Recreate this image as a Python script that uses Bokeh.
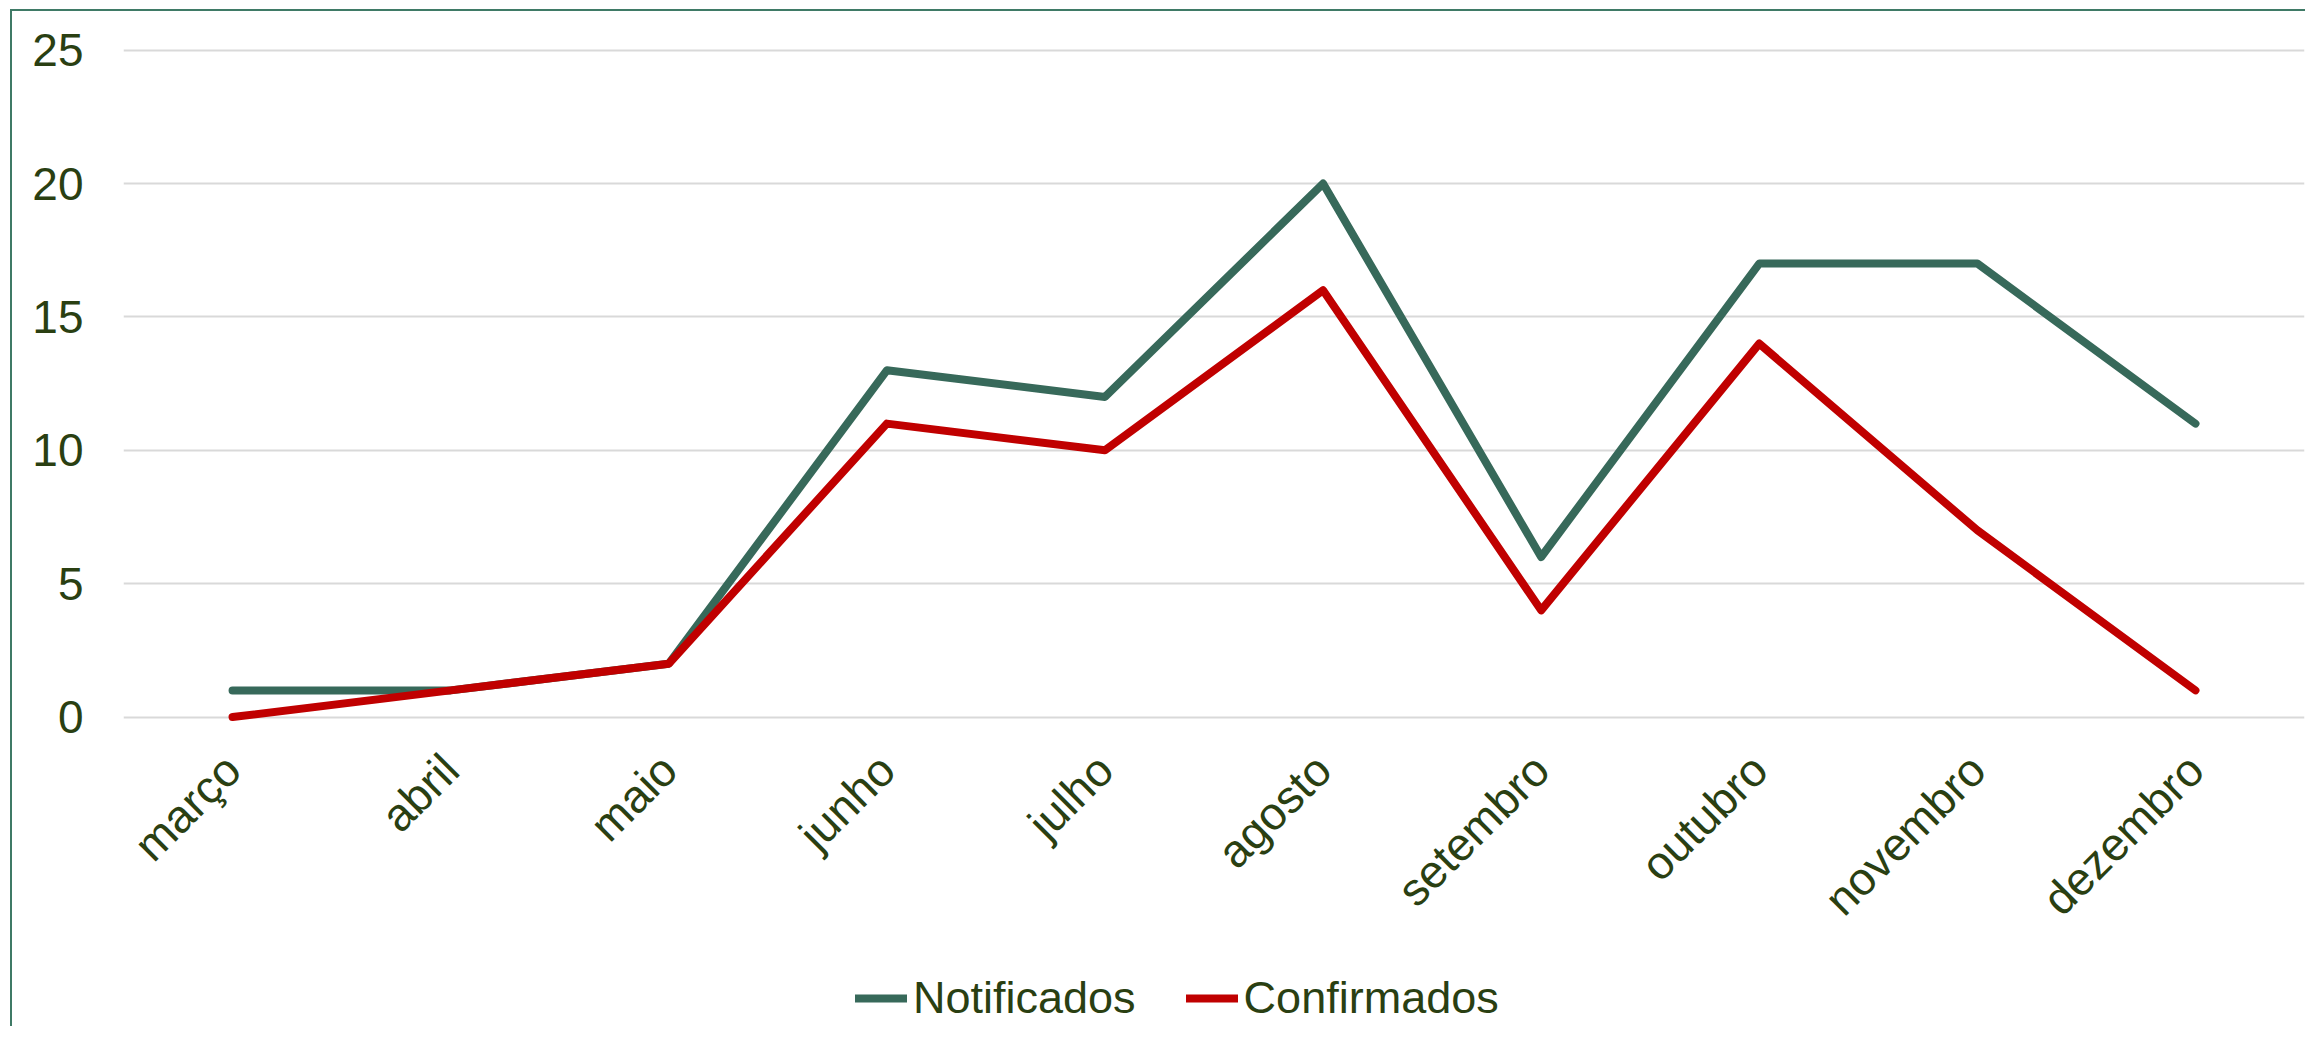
from bokeh.plotting import figure
from bokeh.models import Range1d, FactorRange, Legend, LegendItem, ColumnDataSource
from bokeh.embed import file_html
from bokeh.resources import INLINE
import math

months = ["março", "abril", "maio", "junho", "julho", "agosto",
          "setembro", "outubro", "novembro", "dezembro"]
notificados = [1, 1, 2, 13, 12, 20, 6, 17, 17, 11]
confirmados = [0, 1, 2, 11, 10, 16, 4, 14, 7, 1]
y_ticks = [0, 5, 10, 15, 20, 25]

TEXT = "#2A3F12"
GREEN = "#37695A"
RED = "#C00000"
FONT = "Liberation Sans"

src = ColumnDataSource(dict(m=months, n=notificados, c=confirmados))

p = figure(frame_width=2181, frame_height=979, output_backend="svg", toolbar_location=None,
           x_range=FactorRange(*months, range_padding=0),
           y_range=Range1d(-11.6, 25.1))
p.min_border_left = 111
p.min_border_right = 1
p.min_border_top = 36
p.min_border_bottom = 0
p.outline_line_color = None
p.background_fill_color = "white"
p.border_fill_color = "white"
p.styles = {"border-top": "2px solid #3F7A66", "border-left": "2px solid #3F7A66",
            "margin-left": "10px", "margin-top": "9px"}

r1 = p.line("m", "n", source=src, line_color=GREEN, line_width=8,
            line_join="round", line_cap="round")
r2 = p.line("m", "c", source=src, line_color=RED, line_width=8,
            line_join="round", line_cap="round")

p.xgrid.grid_line_color = None
p.ygrid.grid_line_color = "#D9D9D9"
p.ygrid.grid_line_width = 2

p.yaxis.ticker = y_ticks
p.yaxis.axis_line_color = None
p.yaxis.major_tick_line_color = None
p.yaxis.minor_tick_line_color = None
p.yaxis.major_tick_out = 0
p.yaxis.major_label_standoff = 40
p.yaxis.major_label_text_font = FONT
p.yaxis.major_label_text_font_size = "46px"
p.yaxis.major_label_text_color = TEXT

p.xaxis.fixed_location = 0
p.xaxis.axis_line_color = None
p.xaxis.major_tick_line_color = None
p.xaxis.minor_tick_line_color = None
p.xaxis.major_tick_out = 0
p.xaxis.major_label_standoff = 45
p.xaxis.major_label_orientation = math.pi / 4
p.xaxis.major_label_text_font = FONT
p.xaxis.major_label_text_font_size = "46px"
p.xaxis.major_label_text_color = TEXT

legend = Legend(items=[LegendItem(label="Notificados", renderers=[r1]),
                       LegendItem(label="Confirmados", renderers=[r2])],
                orientation="horizontal", location=(732, 2))
legend.label_text_font = FONT
legend.label_text_font_size = "45px"
legend.label_text_color = TEXT
legend.glyph_width = 52
legend.glyph_height = 40
legend.label_standoff = 6
legend.spacing = 50
legend.border_line_color = None
legend.background_fill_alpha = 0
legend.padding = 0
legend.margin = 0
p.add_layout(legend, "center")

open("out.html", "w").write(file_html(p, INLINE))
